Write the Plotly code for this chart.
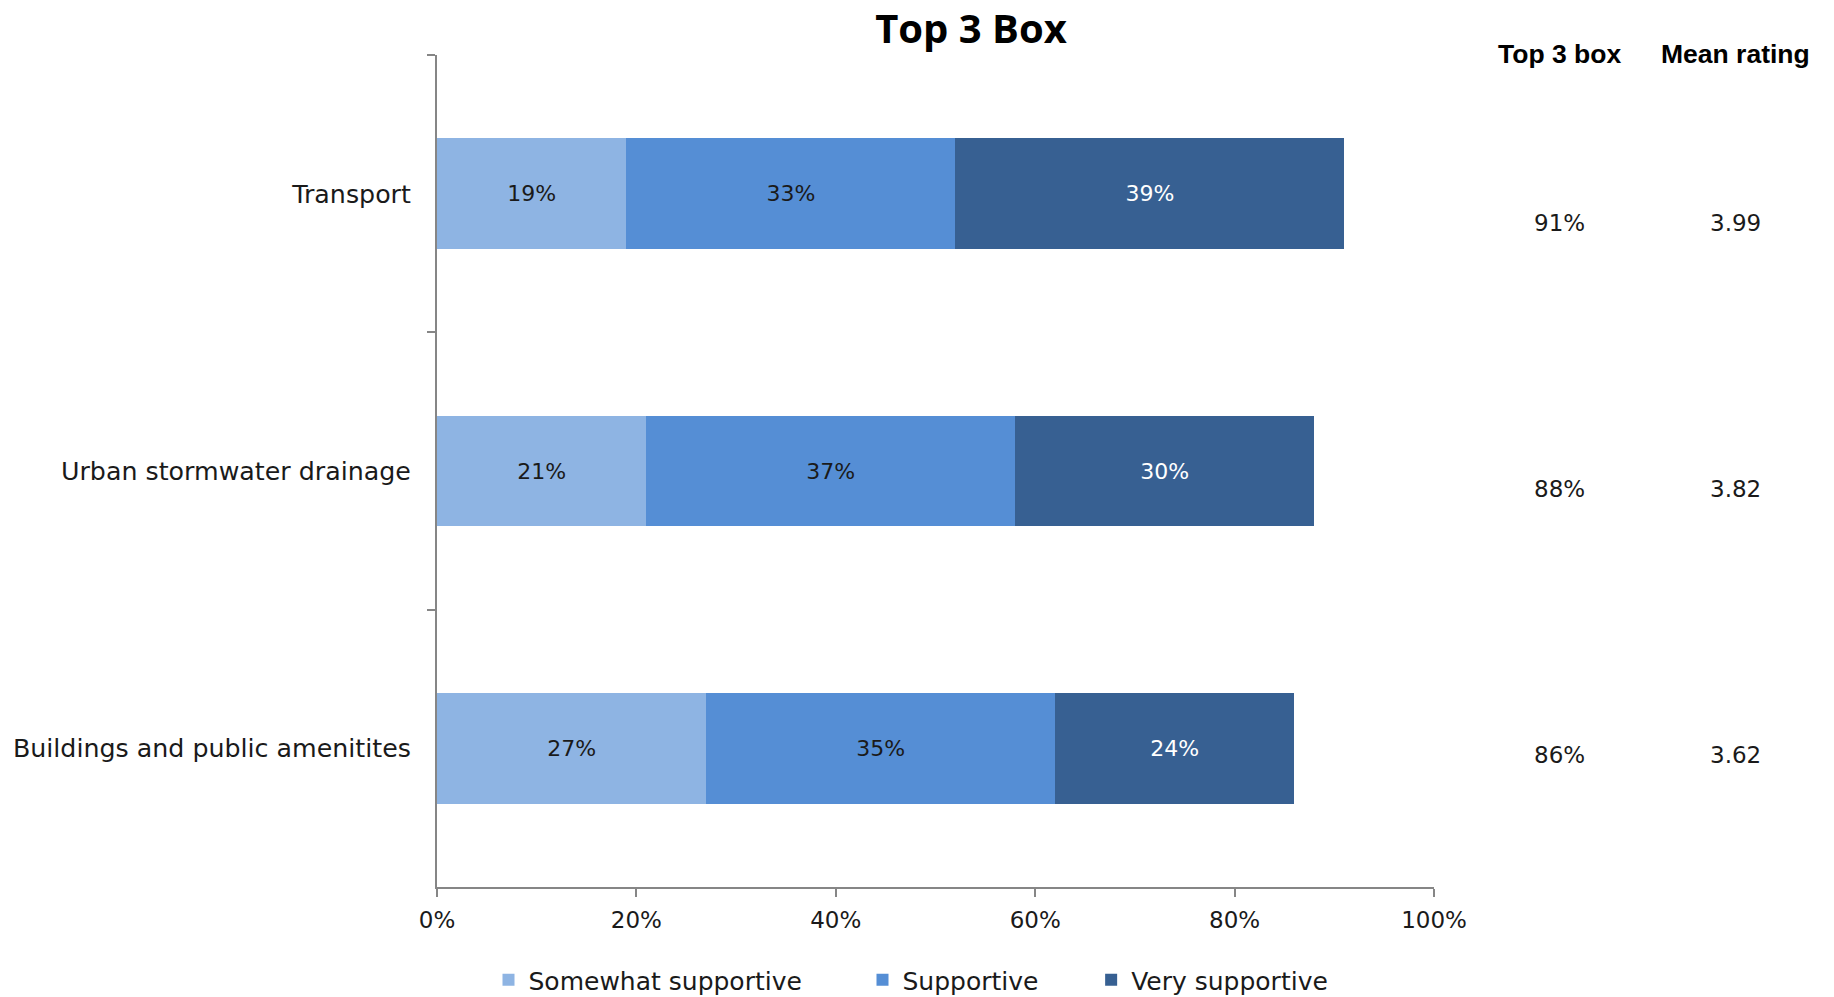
import plotly.graph_objects as go

categories = ["Transport", "Urban stormwater drainage", "Buildings and public amenitites"]
somewhat = [19, 21, 27]
supportive = [33, 37, 35]
very = [39, 30, 24]
top3 = ["91%", "88%", "86%"]
mean_rating = ["3.99", "3.82", "3.62"]
x_ticks = [0, 20, 40, 60, 80, 100]
x_ticklabels = ["0%", "20%", "40%", "60%", "80%", "100%"]
series_names = ["Somewhat supportive", "Supportive", "Very supportive"]

NB = "\u00a0"
legend_pad = [7, 6, 0]  # extra legend spacing (non-breaking spaces)

series = [
    (series_names[0], somewhat, "#8EB4E3", "#1a1a1a"),
    (series_names[1], supportive, "#558ED5", "#1a1a1a"),
    (series_names[2], very, "#376092", "#ffffff"),
]

FONT = "DejaVu Sans"
fig = go.Figure()
for (name, vals, color, tcolor), pad in zip(series, legend_pad):
    fig.add_trace(go.Bar(
        y=categories, x=vals, name=name + NB * pad, orientation="h",
        marker=dict(color=color, line=dict(width=0)),
        text=[f"{v}%" for v in vals], textposition="inside",
        insidetextanchor="middle",
        textfont=dict(family=FONT, size=22, color=tcolor),
        width=0.4,
    ))

W, H = 1834, 997
OFF = 8  # page body margin
L, T = 437 - OFF, 55 - OFF
pw = 997
R = W - L - pw
B = H - (887 - OFF)
ph = H - T - B

def px_x(x):
    return (x - OFF - L) / pw

def px_y(y):
    return (H - B - (y - OFF)) / ph

fig.update_layout(
    width=W, height=H,
    margin=dict(l=L, r=R, t=T, b=B, autoexpand=False),
    barmode="stack",
    plot_bgcolor="white", paper_bgcolor="white",
    font=dict(family=FONT, size=24, color="#1a1a1a"),
    title=dict(text="<b>Top 3 Box</b>", x=(971 - OFF) / W, xanchor="center", y=1 - 21 / H,
               yanchor="middle", pad=dict(t=0, b=0),
               font=dict(family="Open Sans", size=40, color="#000000")),
    showlegend=True,
    legend=dict(orientation="h", x=px_x(911), xanchor="center", y=px_y(980), yanchor="middle",
                font=dict(family=FONT, size=25, color="#1a1a1a"), traceorder="normal",
                itemwidth=30),
    xaxis=dict(range=[0, 100], tickvals=x_ticks, ticktext=x_ticklabels, showgrid=False,
               zeroline=False, showline=True, linecolor="#868686", linewidth=2,
               ticks="outside", ticklen=8, tickcolor="#868686", tickwidth=2,
               tickfont=dict(family=FONT, size=23, color="#1a1a1a"), ticklabelstandoff=3),
    yaxis=dict(categoryorder="array", categoryarray=categories, autorange="reversed",
               showgrid=False, zeroline=False, showline=True, linecolor="#868686", linewidth=2,
               ticks="outside", ticklen=8, tickcolor="#868686", tickwidth=2, tickson="boundaries",
               tickfont=dict(family=FONT, size=25.3, color="#1a1a1a"), ticklabelstandoff=19),
)

ann = []
for text, xx in [("<b>Top 3 box</b>", 1559), ("<b>Mean rating</b>", 1735)]:
    ann.append(dict(text=text, x=px_x(xx), y=px_y(54), xref="paper", yref="paper",
                    showarrow=False, xanchor="center", yanchor="middle",
                    font=dict(family="Liberation Sans", size=26.5, color="#000000")))
row_y = [223, 489, 755]
for t, m, yy in zip(top3, mean_rating, row_y):
    ann.append(dict(text=t, x=px_x(1559), y=px_y(yy), xref="paper", yref="paper", showarrow=False,
                    xanchor="center", yanchor="middle", font=dict(family=FONT, size=23, color="#1a1a1a")))
    ann.append(dict(text=m, x=px_x(1735), y=px_y(yy), xref="paper", yref="paper", showarrow=False,
                    xanchor="center", yanchor="middle", font=dict(family=FONT, size=23, color="#1a1a1a")))
fig.update_layout(annotations=ann)

fig.write_html("out.html")
